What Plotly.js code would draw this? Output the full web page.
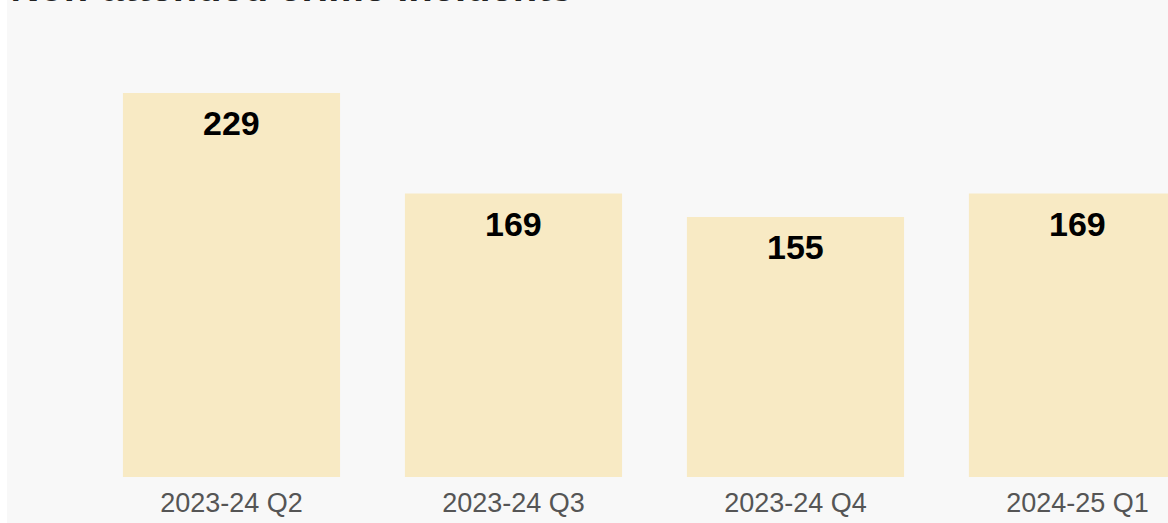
<!DOCTYPE html>
<html>
<head>
<meta charset="utf-8">
<script src="https://cdn.plot.ly/plotly-3.0.1.min.js"></script>
<style>
  html, body { margin: 0; padding: 0; background: #ffffff; width: 1168px; height: 523px; overflow: hidden; }
  #chart { position: absolute; left: 7px; top: 0; width: 1161px; height: 523px; }
</style>
</head>
<body>
<div id="chart"></div>
<script>
const categories = ["2023-24 Q2", "2023-24 Q3", "2023-24 Q4", "2024-25 Q1"];
const values = [229, 169, 155, 169];
const titleText = "Non-attended crime incidents";

const barColor = "#f8eac4";
const bg = "#f8f8f8";

const trace = {
  type: "bar",
  x: categories,
  y: values,
  marker: { color: barColor, line: { width: 0 } },
  hoverinfo: "x+y"
};

const annotations = categories.map((c, i) => ({
  x: c,
  y: values[i],
  xref: "x",
  yref: "y",
  text: String(values[i]),
  showarrow: false,
  yanchor: "top",
  yshift: -9,
  font: { family: "Liberation Sans, Arial, sans-serif", size: 34, color: "#000000", weight: "bold" }
}));

const layout = {
  width: 1161,
  height: 523,
  paper_bgcolor: bg,
  plot_bgcolor: bg,
  margin: { l: 0, r: 0, t: 10, b: 46 },
  showlegend: false,
  bargap: 0.23,
  title: {
    text: "<b>" + titleText + "</b>",
    x: 0.003,
    xanchor: "left",
    xref: "paper",
    yref: "paper",
    y: 1,
    yanchor: "bottom",
    pad: { b: 9, t: 0, l: 0, r: 0 },
    font: { family: "Liberation Sans, Arial, sans-serif", size: 40, color: "#222222" }
  },
  xaxis: {
    type: "category",
    range: [-0.7961, 3.321],
    showgrid: false,
    zeroline: false,
    showline: false,
    ticks: "",
    ticklabelstandoff: 7,
    tickfont: { family: "Liberation Sans, Arial, sans-serif", size: 27, color: "#555555" },
    fixedrange: true
  },
  yaxis: {
    range: [0, 278.5],
    visible: false,
    showgrid: false,
    zeroline: false,
    fixedrange: true
  },
  annotations: annotations
};

Plotly.newPlot("chart", [trace], layout, { displayModeBar: false, staticPlot: true });
</script>
</body>
</html>
